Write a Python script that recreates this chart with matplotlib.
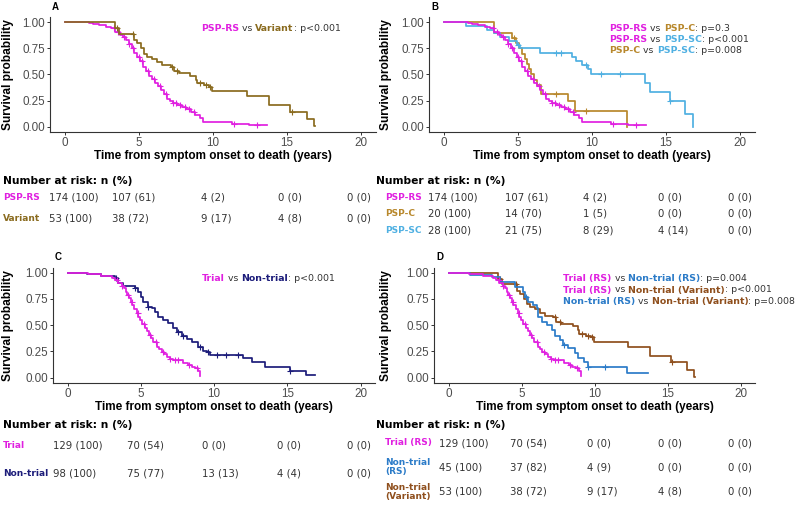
import numpy as np
import matplotlib.pyplot as plt

plt.rcParams['font.family'] = ['Liberation Sans', 'DejaVu Sans']

W, H = 800, 505

# colours
MAG = '#e020e0'
OLIVE = '#8a6b1f'
GOLD = '#b8882c'
SKY = '#4fb0e2'
NAVY = '#1c1c7a'
BLUE = '#2b7bc8'
BROWN = '#8f4f1d'
GREY = '#333333'

# ---- survival curves (step knots: time in years, survival from that time on)
rs_t = [0, 1.6, 1.9, 2.3, 2.8, 3.1, 3.4, 3.7, 3.9, 4.1, 4.3, 4.5, 4.7, 4.9, 5.1, 5.3, 5.5, 5.7,
        5.9, 6.1, 6.3, 6.5, 6.7, 6.9, 7.1, 7.3, 7.6, 7.9, 8.2, 8.5, 8.8, 9.1, 9.35, 11.3, 12.4, 13.65]
rs_s = [1.0, 0.99, 0.98, 0.97, 0.955, 0.94, 0.91, 0.88, 0.855, 0.83, 0.79, 0.75, 0.71, 0.665, 0.625,
        0.575, 0.535, 0.49, 0.46, 0.42, 0.39, 0.355, 0.31, 0.27, 0.245, 0.23, 0.21, 0.19, 0.17, 0.145,
        0.115, 0.08, 0.045, 0.03, 0.013, 0.013]
rs_cens = [3.3, 3.6, 4.0, 4.3, 4.6, 5.0, 5.2, 5.6, 6.0, 6.4, 6.8, 7.3, 7.5, 7.8, 8.1, 8.4, 8.7, 11.4, 13.0]

var_t = [0, 3.39, 3.66, 4.67, 4.89, 5.12, 5.34, 5.57, 5.9, 6.24, 6.58, 7.14, 7.36, 7.7, 8.48, 8.82,
         8.93, 9.38, 9.72, 9.94, 12.3, 13.8, 15.2, 16.34, 16.79, 16.85]
var_s = [1.0, 0.94, 0.89, 0.83, 0.8, 0.75, 0.7, 0.67, 0.65, 0.62, 0.59, 0.575, 0.53, 0.51, 0.49, 0.45,
         0.415, 0.4, 0.385, 0.34, 0.29, 0.21, 0.145, 0.07, 0.005, 0.005]
var_cens = [3.5, 4.6, 7.25, 7.6, 9.1, 9.5, 9.8, 15.3]

pspc_t = [0, 3.38, 4.6, 4.85, 5.05, 5.3, 5.45, 5.6, 5.75, 5.9, 6.1, 6.3, 6.55, 8.4, 8.85, 12.35]
pspc_s = [1.0, 0.9, 0.85, 0.8, 0.75, 0.7, 0.65, 0.6, 0.55, 0.5, 0.45, 0.4, 0.31, 0.245, 0.155, 0.0]
pspc_cens = [4.7, 7.6, 9.6]

pspsc_t = [0, 1.5, 2.9, 3.4, 3.8, 4.4, 4.9, 5.15, 6.5, 8.65, 8.95, 9.3, 9.7, 9.9, 13.6, 13.95,
           15.25, 16.3, 16.85]
pspsc_s = [1.0, 0.964, 0.929, 0.893, 0.857, 0.82, 0.785, 0.75, 0.71, 0.67, 0.63, 0.59, 0.55, 0.5,
           0.42, 0.33, 0.25, 0.125, 0.0]
pspsc_cens = [5.0, 7.6, 7.9, 9.6, 10.6, 11.9, 15.3]

trial_t = [0, 1.4, 2.3, 3.0, 3.25, 3.46, 3.68, 3.82, 3.95, 4.07, 4.18, 4.3, 4.41, 4.56, 4.71, 4.82,
           4.93, 5.1, 5.28, 5.42, 5.55, 5.7, 5.84, 6.07, 6.25, 6.41, 6.6, 6.76, 6.98, 7.21, 7.9,
           8.2, 8.46, 8.7, 8.92, 9.03, 9.05]
trial_s = [1.0, 0.99, 0.972, 0.946, 0.93, 0.9, 0.876, 0.85, 0.82, 0.79, 0.756, 0.72, 0.69, 0.65,
           0.613, 0.58, 0.55, 0.51, 0.47, 0.44, 0.406, 0.375, 0.343, 0.295, 0.27, 0.248, 0.225,
           0.2, 0.178, 0.168, 0.137, 0.12, 0.105, 0.089, 0.064, 0.012, 0.012]
trial_cens = [3.4, 3.7, 4.1, 4.4, 4.8, 5.2, 5.6, 6.0, 6.5, 7.0, 7.3, 7.5, 8.3, 8.8]

nt_t = [0, 1.3, 2.3, 3.2, 3.46, 3.8, 4.59, 4.82, 5.0, 5.16, 5.5, 5.73, 5.96, 6.19, 6.53, 6.87, 7.21,
        7.44, 7.78, 8.12, 8.46, 8.92, 9.26, 9.49, 9.71, 12.0, 12.56, 13.5, 15.2, 16.3, 16.88]
nt_s = [1.0, 0.99, 0.972, 0.953, 0.899, 0.876, 0.857, 0.819, 0.772, 0.718, 0.677, 0.661, 0.629,
        0.581, 0.549, 0.518, 0.47, 0.438, 0.4, 0.369, 0.343, 0.295, 0.254, 0.241, 0.215, 0.19,
        0.15, 0.105, 0.06, 0.03, 0.03]
nt_cens = [3.3, 4.6, 5.5, 7.5, 7.9, 9.0, 9.6, 10.2, 10.8, 11.6, 15.2]

ntrs_t = [0, 1.44, 2.93, 3.5, 4.52, 5.05, 5.21, 5.44, 5.78, 6.01, 6.12, 6.35, 6.7, 7.04, 7.27, 7.61,
          7.84, 8.18, 8.64, 8.87, 9.25, 9.5, 12.2, 13.65]
ntrs_s = [1.0, 0.978, 0.956, 0.91, 0.866, 0.82, 0.77, 0.72, 0.69, 0.66, 0.58, 0.53, 0.5, 0.45, 0.4,
          0.36, 0.31, 0.28, 0.233, 0.184, 0.15, 0.105, 0.045, 0.045]
ntrs_cens = [5.3, 7.9, 9.5, 10.7]

# ---- numbers at risk (at 0, 5, 10, 15, 20 years)
risk_a_labels = ['PSP-RS', 'Variant']
risk_a_n = [[174, 107, 4, 0, 0], [53, 38, 9, 4, 0]]
risk_a_pct = [[100, 61, 2, 0, 0], [100, 72, 17, 8, 0]]

risk_b_labels = ['PSP-RS', 'PSP-C', 'PSP-SC']
risk_b_n = [[174, 107, 4, 0, 0], [20, 14, 1, 0, 0], [28, 21, 8, 4, 0]]
risk_b_pct = [[100, 61, 2, 0, 0], [100, 70, 5, 0, 0], [100, 75, 29, 14, 0]]

risk_c_labels = ['Trial', 'Non-trial']
risk_c_n = [[129, 70, 0, 0, 0], [98, 75, 13, 4, 0]]
risk_c_pct = [[100, 54, 0, 0, 0], [100, 77, 13, 4, 0]]

risk_d_labels = ['Trial (RS)', 'Non-trial\n(RS)', 'Non-trial\n(Variant)']
risk_d_n = [[129, 70, 0, 0, 0], [45, 37, 4, 0, 0], [53, 38, 9, 4, 0]]
risk_d_pct = [[100, 54, 0, 0, 0], [100, 82, 9, 0, 0], [100, 72, 17, 8, 0]]

# ---- comparison texts: (text, colour, bold)
pv_a = [[('PSP-RS', MAG, 1), (' vs ', GREY, 0), ('Variant', OLIVE, 1), (': p<0.001', GREY, 0)]]
pv_b = [[('PSP-RS', MAG, 1), (' vs ', GREY, 0), ('PSP-C', GOLD, 1), (': p=0.3', GREY, 0)],
        [('PSP-RS', MAG, 1), (' vs ', GREY, 0), ('PSP-SC', SKY, 1), (': p<0.001', GREY, 0)],
        [('PSP-C', GOLD, 1), (' vs ', GREY, 0), ('PSP-SC', SKY, 1), (': p=0.008', GREY, 0)]]
pv_c = [[('Trial', MAG, 1), (' vs ', GREY, 0), ('Non-trial', NAVY, 1), (': p<0.001', GREY, 0)]]
pv_d = [[('Trial (RS)', MAG, 1), (' vs ', GREY, 0), ('Non-trial (RS)', BLUE, 1), (': p=0.004', GREY, 0)],
        [('Trial (RS)', MAG, 1), (' vs ', GREY, 0), ('Non-trial (Variant)', BROWN, 1), (': p<0.001', GREY, 0)],
        [('Non-trial (RS)', BLUE, 1), (' vs ', GREY, 0), ('Non-trial (Variant)', BROWN, 1), (': p=0.008', GREY, 0)]]


fig = plt.figure(figsize=(8, 5.05), dpi=100)
renderer = fig.canvas.get_renderer()
TAB = 'DejaVu Sans'


def fx(x):
    return x / W


def fy(y):
    return 1 - y / H


def km_panel(box, letter, ylab_x, curves):
    l, r, t, b = box
    ax = fig.add_axes([l / W, 1 - b / H, (r - l) / W, (b - t) / H])
    for times, surv, cens, col in curves:
        ax.plot(times, surv, drawstyle='steps-post', color=col, lw=1.25)
        times = np.asarray(times)
        idx = np.searchsorted(times, cens, side='right') - 1
        ax.plot(cens, np.asarray(surv)[idx], ls='none', marker='+', ms=4.5, mew=0.8, color=col)
    ax.set_xlim(-1, 21)
    ax.set_ylim(-0.05, 1.05)
    ax.set_xticks([0, 5, 10, 15, 20])
    ax.set_yticks([0, 0.25, 0.5, 0.75, 1.0])
    ax.set_yticklabels(['0.00', '0.25', '0.50', '0.75', '1.00'])
    for s in ['top', 'right']:
        ax.spines[s].set_visible(False)
    for s in ['left', 'bottom']:
        ax.spines[s].set_color(GREY)
        ax.spines[s].set_linewidth(0.8)
    ax.tick_params(length=2.5, width=0.7, color=GREY, labelcolor='#4d4d4d', labelsize=8.4, pad=1.2)
    ax.set_xlabel('Time from symptom onset to death (years)', fontsize=8.5, weight='bold')
    ax.xaxis.label.set_va('center')
    ax.xaxis.set_label_coords(0.5, -(24.0 / (b - t)))
    ax.set_ylabel('Survival probability', fontsize=8.6, weight='bold')
    ax.yaxis.label.set_va('center')
    ax.yaxis.set_label_coords((ylab_x - l) / (r - l), 0.5)
    fig.text(fx(l + 2), fy(t - 10), letter, fontsize=7, weight='bold', va='center', ha='left')
    return ax


def advance(s, **kw):
    t1 = fig.text(0, 0, '|' + s + '|', **kw)
    t2 = fig.text(0, 0, '||', **kw)
    w = t1.get_window_extent(renderer).width - t2.get_window_extent(renderer).width
    t1.remove()
    t2.remove()
    return w


def rich_lines(x0, y0, dy, lines):
    for k, parts in enumerate(lines):
        x = x0
        for s, col, bold in parts:
            kw = dict(fontsize=6.75, family=TAB, weight='bold' if bold else 'normal')
            fig.text(fx(x), fy(y0 + k * dy), s, color=col, va='center', ha='left', **kw)
            x += advance(s, **kw)


def risk_table(hx, hy, lab_x, row_y, col_x, labels, colors, n, pct):
    fig.text(fx(hx), fy(hy), 'Number at risk: n (%)', fontsize=7.7, weight='bold',
             family=TAB, va='center', ha='left')
    for i, lab in enumerate(labels):
        fig.text(fx(lab_x), fy(row_y[i]), lab, color=colors[i], fontsize=6.5, weight='bold',
                 family=TAB, va='center', ha='left', linespacing=1.05)
        for j, cx in enumerate(col_x):
            fig.text(fx(cx), fy(row_y[i]), f'{n[i][j]} ({pct[i][j]})', color=GREY,
                     fontsize=7.3, family=TAB, va='center', ha='left')


# panel A
km_panel((50, 376, 17, 132), 'A', 8,
         [(rs_t, rs_s, rs_cens, MAG), (var_t, var_s, var_cens, OLIVE)])
rich_lines(200.7, 28.3, 11.2, pv_a)
risk_table(3, 181, 3, [197, 219], [49, 112, 201, 278, 347],
           risk_a_labels, [MAG, OLIVE], risk_a_n, risk_a_pct)

# panel B
km_panel((429.2, 754.8, 17, 132), 'B', 386,
         [(pspc_t, pspc_s, pspc_cens, GOLD), (pspsc_t, pspsc_s, pspsc_cens, SKY),
          (rs_t, rs_s, rs_cens, MAG)])
rich_lines(609.3, 28.3, 11.2, pv_b)
risk_table(376, 181, 385, [197, 213.3, 230.7], [428, 505, 583, 658, 728],
           risk_b_labels, [MAG, GOLD, SKY], risk_b_n, risk_b_pct)

# panel C
km_panel((53, 375.3, 267.5, 382.9), 'C', 8,
         [(nt_t, nt_s, nt_cens, NAVY), (trial_t, trial_s, trial_cens, MAG)])
rich_lines(201.7, 278.3, 11.2, pv_c)
risk_table(3, 425, 3, [446, 473], [53, 127, 202, 277, 347],
           risk_c_labels, [MAG, NAVY], risk_c_n, risk_c_pct)

# panel D
km_panel((434.4, 755.3, 267.5, 382.9), 'D', 386,
         [(var_t, var_s, var_cens, BROWN), (ntrs_t, ntrs_s, ntrs_cens, BLUE),
          (trial_t, trial_s, trial_cens, MAG)])
rich_lines(563.3, 278.3, 11.7, pv_d)
risk_table(376, 425, 385, [443, 467, 492], [439, 510, 587, 658, 728],
           risk_d_labels, [MAG, BLUE, BROWN], risk_d_n, risk_d_pct)

fig.savefig('out.png', dpi=100)
